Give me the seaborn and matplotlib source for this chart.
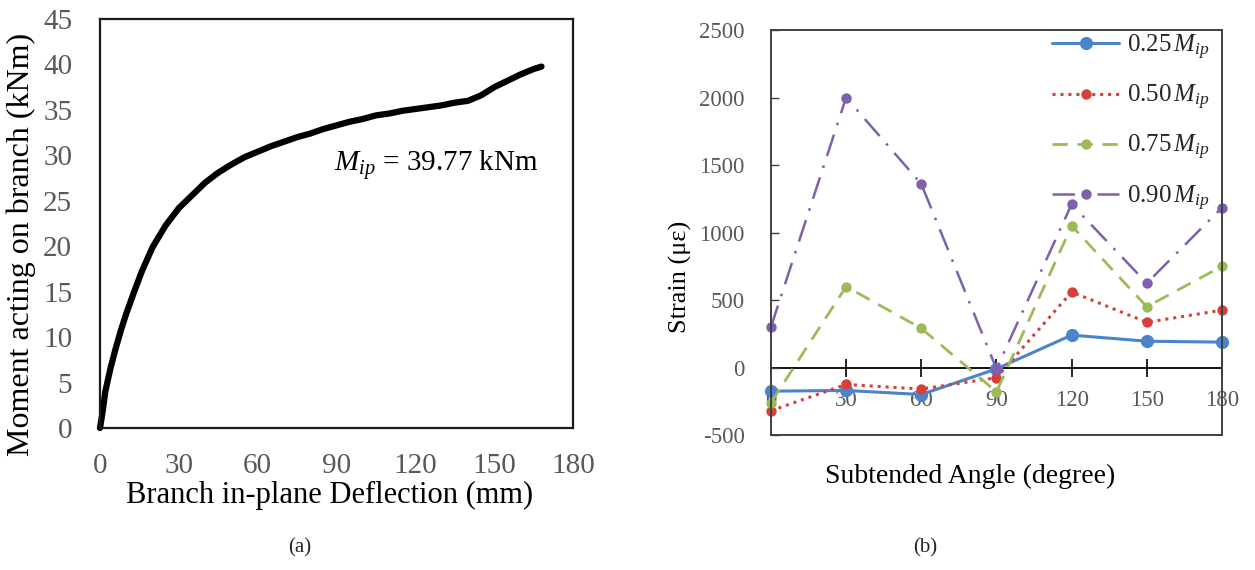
import numpy as np
import pandas as pd
import matplotlib
matplotlib.use("Agg")
import matplotlib.pyplot as plt
import seaborn as sns

# ---- data -------------------------------------------------------------
# (a) moment-deflection response of the branch
M_IP = 39.77  # in-plane moment capacity, kNm
deflection = [0, 1, 2, 4, 6, 8, 10, 13, 16, 20, 25, 30, 35, 40, 45, 50, 55,
              60, 65, 70, 75, 80, 85, 90, 95, 100, 105, 110, 115, 120, 125,
              130, 135, 140, 145, 150, 155, 160, 165, 168]
moment = [0, 1.8, 4.0, 6.6, 8.8, 10.8, 12.6, 15.0, 17.3, 19.9, 22.3, 24.2,
          25.6, 27.0, 28.1, 29.0, 29.8, 30.4, 31.0, 31.5, 32.0, 32.4, 32.9,
          33.3, 33.7, 34.0, 34.4, 34.6, 34.9, 35.1, 35.3, 35.5, 35.8, 36.0,
          36.6, 37.5, 38.2, 38.9, 39.5, M_IP]

# (b) strain around the chord at the subtended angles
angles = [0, 30, 60, 90, 120, 150, 180]
load_labels = ["0.25", "0.50", "0.75", "0.90"]
strain_025 = [-175, -170, -200, -10, 240, 195, 188]
strain_050 = [-320, -125, -160, -75, 560, 335, 425]
strain_075 = [-260, 600, 290, -180, 1050, 450, 750]
strain_090 = [300, 2000, 1360, -10, 1210, 625, 1185]

# ---- style ------------------------------------------------------------
sns.set_style("white")
plt.rcParams["font.family"] = ["Liberation Serif", "DejaVu Serif"]
plt.rcParams["mathtext.fontset"] = "custom"
plt.rcParams["mathtext.rm"] = "Liberation Serif"
plt.rcParams["mathtext.it"] = "Liberation Serif:italic"
plt.rcParams["axes.unicode_minus"] = False

TICK_GREY = "#595959"

fig = plt.figure(figsize=(12.55, 5.7), dpi=100)
ax1 = fig.add_axes([0.0797, 0.2491, 0.3769, 0.7175])
ax2 = fig.add_axes([0.6143, 0.2368, 0.3594, 0.7105])

# ---- (a) --------------------------------------------------------------
curve = pd.DataFrame({"deflection": deflection, "moment": moment})
sns.lineplot(data=curve, x="deflection", y="moment", ax=ax1, color="black",
             lw=4.5, solid_capstyle="round", solid_joinstyle="round",
             clip_on=False, sort=False)
ax1.set_xlim(0, 180)
ax1.set_ylim(0, 45)
ax1.set_xticks(range(0, 181, 30))
ax1.set_yticks(range(0, 46, 5))
ax1.tick_params(axis="x", direction="in", length=7, width=1.2, color="black",
                labelsize=21, labelcolor=TICK_GREY, pad=18, top=False)
ax1.tick_params(axis="y", length=0, labelsize=21, labelcolor=TICK_GREY, pad=20)
for sp in ax1.spines.values():
    sp.set_color("#1a1a1a")
    sp.set_linewidth(1.6)
ax1.set_xlabel("Branch in-plane Deflection (mm)", fontsize=22, color="black")
ax1.set_ylabel("Moment acting on branch (kNm)", fontsize=23, color="black")
ax1.xaxis.set_label_coords(0.485, -0.13)
ax1.yaxis.set_label_coords(-0.135, 0.45)
ax1.text(128, 28.9, f"$M_{{ip}}$ = {M_IP:.2f} kNm", fontsize=21,
         ha="center", va="center", color="black")

# ---- (b) --------------------------------------------------------------
series = [strain_025, strain_050, strain_075, strain_090]
colors = ["#4a84cb", "#d6403a", "#9bbb59", "#7f60ad"]
styles = ["-", (0, (1, 1.6)), (0, (5.5, 3.5)), (0, (9, 4, 1, 4))]
widths = [2.2, 2.2, 2.0, 1.8]
msizes = [9.5, 7.5, 7.5, 7.5]
for lab, vals, c, ls, lw, ms in zip(load_labels, series, colors, styles,
                                    widths, msizes):
    sns.lineplot(x=angles, y=vals, ax=ax2, color=c, linestyle=ls, lw=lw,
                 marker="o", markersize=ms, markeredgewidth=0,
                 label=f"{lab}$\\,M_{{ip}}$", clip_on=False)

ax2.set_xlim(0, 180)
ax2.set_ylim(-500, 2500)
ax2.set_yticks(range(-500, 2501, 500))
ax2.tick_params(axis="x", bottom=False, labelbottom=False)
ax2.tick_params(axis="y", direction="in", length=6, width=1.0, color="#404040",
                labelsize=16.5, labelcolor=TICK_GREY, pad=19, left=True)
for sp in ax2.spines.values():
    sp.set_color("#404040")
    sp.set_linewidth(1.4)

# horizontal axis drawn through zero strain
y0, y1 = ax2.get_ylim()
zero_axis = ax2.secondary_xaxis((0 - y0) / (y1 - y0))
zero_axis.set_xticks(angles)
zero_axis.tick_params(direction="inout", length=13, width=1.2, color="black",
                      labelsize=16.5, labelcolor=TICK_GREY, pad=10)
zero_axis.spines["bottom"].set_color("black")
zero_axis.spines["bottom"].set_linewidth(1.3)

ax2.set_xlabel("Subtended Angle (degree)", fontsize=20, color="black")
ax2.set_ylabel("Strain (με)", fontsize=19, color="black")
ax2.xaxis.set_label_coords(0.441, -0.07)
ax2.yaxis.set_label_coords(-0.175, 0.39)

leg = ax2.legend(loc="upper right", frameon=False, fontsize=18,
                 handlelength=2.7, handletextpad=0.3, labelspacing=0.85,
                 borderaxespad=0.1, bbox_to_anchor=(1.0, 1.025))

# ---- panel captions ---------------------------------------------------
fig.text(0.239, 0.0386, "(a)", fontsize=15, ha="center", va="center")
fig.text(0.737, 0.0386, "(b)", fontsize=15, ha="center", va="center")

fig.savefig("out.png", dpi=100, facecolor="white")
